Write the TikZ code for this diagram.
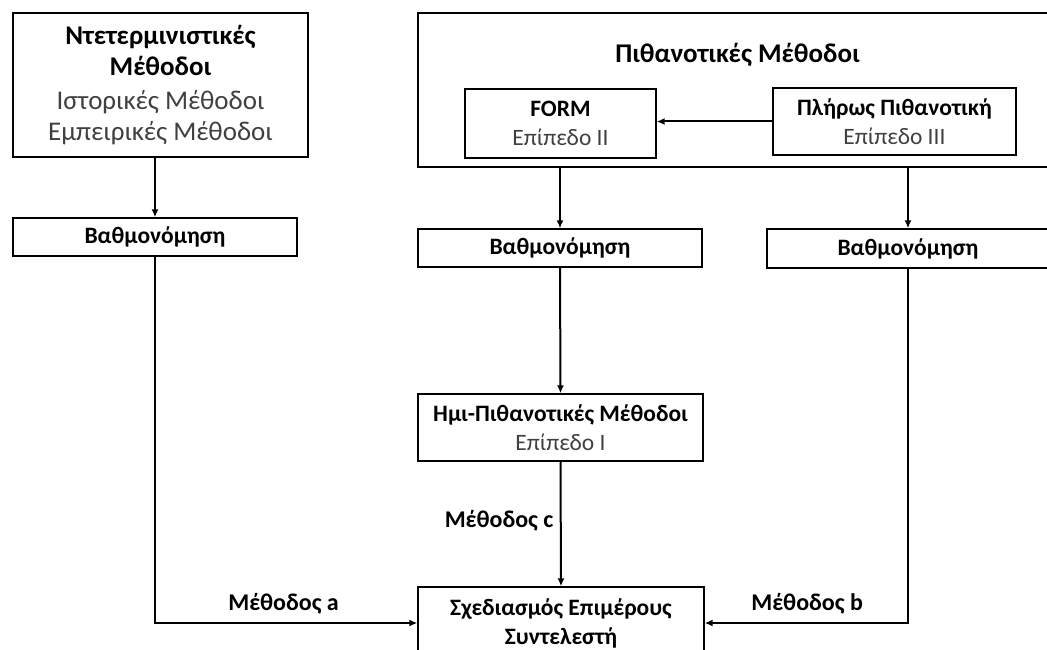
\documentclass[tikz,border=0pt]{standalone}
\usepackage{fontspec}
\setmainfont{Carlito}
\usepackage{xcolor}
\usetikzlibrary{arrows.meta}
\definecolor{cSub}{RGB}{64,64,64}

\begin{document}
\begin{tikzpicture}[x=1pt,y=-1pt,
  box/.style={draw,line width=1.3pt,inner sep=0pt,align=center,font=\fontsize{23.5}{29}\selectfont},
  link/.style={line width=2pt,-{Latex[length=8pt,width=7pt]}},
  lbl/.style={font=\fontsize{24}{28}\selectfont\bfseries}]
\clip (0,0) rectangle (1047,650);
\node[box,minimum width=295,minimum height=144,font=\fontsize{27}{31}\selectfont] (ntet) at (160.5,85) {\textbf{Ντετερμινιστικές}\\\textbf{Μέθοδοι}\\[3pt]\textcolor{cSub}{Ιστορικές Μέθοδοι}\\\textcolor{cSub}{Εμπειρικές Μέθοδοι}};
\node[box,minimum width=639,minimum height=154] (pith) at (737.5,90) {};
\node[lbl,font=\fontsize{27}{31}\selectfont\bfseries] (pithT) at (737.5,55) {Πιθανοτικές Μέθοδοι};
\node[box,minimum width=191,minimum height=69] (form) at (560.5,123.5) {\textbf{FORM}\\\textcolor{cSub}{Επίπεδο II}};
\node[box,minimum width=243,minimum height=67] (pliros) at (894.5,121.5) {\textbf{Πλήρως Πιθανοτική}\\\textcolor{cSub}{Επίπεδο III}};
\node[box,minimum width=284,minimum height=38] (vathA) at (155,237) {\textbf{Βαθμονόμηση}};
\node[box,minimum width=284,minimum height=38] (vathC) at (560,248) {\textbf{Βαθμονόμηση}};
\node[box,minimum width=282,minimum height=39] (vathB) at (908,248.5) {\textbf{Βαθμονόμηση}};
\node[box,minimum width=285,minimum height=67] (imi) at (560.5,427.5) {\textbf{Ημι-Πιθανοτικές Μέθοδοι}\\\textcolor{cSub}{Επίπεδο I}};
\node[box,minimum width=286,minimum height=72] (sxed) at (561,623) {\textbf{Σχεδιασμός Επιμέρους}\\\textbf{Συντελεστή}};
\draw[link] (pliros.west) -- (form.east |- pliros.west);
\draw[link] (ntet.south -| vathA.north) -- (vathA.north);
\draw[link] (pith.south -| vathC.north) -- (vathC.north);
\draw[link] (pith.south -| vathB.north) -- (vathB.north);
\draw[link] (vathC.south) -- (imi.north);
\draw[link] (imi.south) -- node[lbl,left=3pt,pos=0.47] {Μέθοδος c} (sxed.north);
\draw[link] (vathA.south) |- node[lbl,above=5pt,pos=0.745] {Μέθοδος a} (sxed.west);
\draw[link] (vathB.south) |- node[lbl,above=5pt,pos=0.748] {Μέθοδος b} (sxed.east);
\end{tikzpicture}
\end{document}
